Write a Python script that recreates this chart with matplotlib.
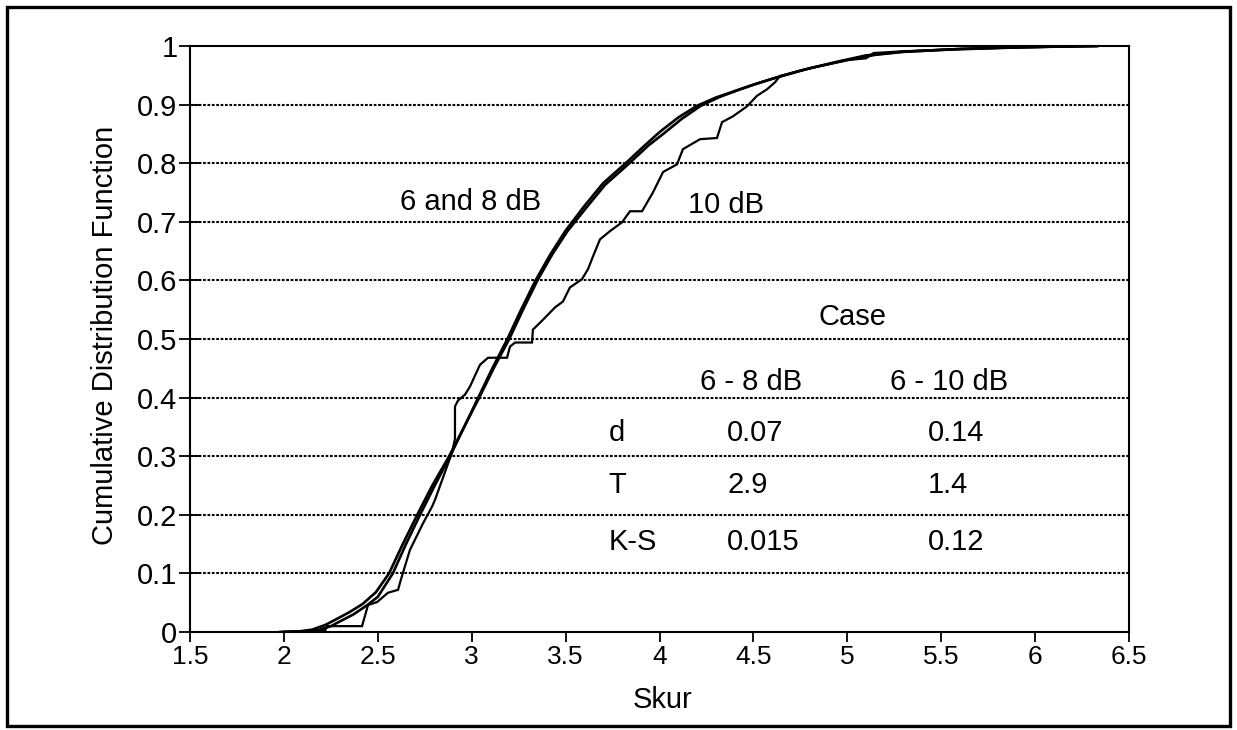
import matplotlib
matplotlib.use("Agg")
import matplotlib.pyplot as plt
from matplotlib.patches import Rectangle

plt.rcParams['font.family'] = ['Liberation Sans', 'DejaVu Sans']

# ---- data ----
x_6db = [2.00, 2.10, 2.18, 2.25, 2.31, 2.37, 2.44, 2.50, 2.58, 2.65, 2.725, 2.80, 2.885, 2.96, 3.035,
         3.11, 3.19, 3.26, 3.34, 3.42, 3.50, 3.60, 3.70, 3.82, 3.92, 4.00, 4.10, 4.20, 4.30, 4.40,
         4.50, 4.60, 4.75, 4.93, 5.10, 5.28, 5.55, 5.85, 6.10, 6.33]
y_6db = [0.000, 0.001, 0.003, 0.010, 0.020, 0.030, 0.045, 0.060, 0.100, 0.150, 0.200, 0.248, 0.300, 0.350, 0.400,
         0.450, 0.500, 0.548, 0.600, 0.645, 0.685, 0.727, 0.766, 0.800, 0.830, 0.853, 0.878, 0.898, 0.912, 0.923,
         0.934, 0.944, 0.958, 0.972, 0.984, 0.990, 0.994, 0.997, 0.999, 1.000]

x_8db = [1.98, 2.08, 2.15, 2.22, 2.28, 2.35, 2.42, 2.49, 2.56, 2.63, 2.71, 2.79, 2.88, 2.96, 3.04,
         3.12, 3.20, 3.27, 3.35, 3.43, 3.51, 3.61, 3.71, 3.84, 3.94, 4.02, 4.12, 4.22, 4.32, 4.42,
         4.52, 4.62, 4.80, 5.00, 5.15, 5.30, 5.60, 5.90, 6.15, 6.33]
y_8db = [0.000, 0.001, 0.004, 0.012, 0.022, 0.034, 0.048, 0.068, 0.100, 0.148, 0.200, 0.250, 0.300, 0.350, 0.400,
         0.452, 0.500, 0.548, 0.600, 0.645, 0.684, 0.724, 0.763, 0.800, 0.830, 0.850, 0.876, 0.898, 0.913, 0.925,
         0.936, 0.946, 0.962, 0.976, 0.985, 0.990, 0.995, 0.998, 0.999, 1.000]

x_10db = [1.98, 2.22, 2.23, 2.416, 2.448, 2.496, 2.554, 2.608, 2.618, 2.634, 2.671, 2.74, 2.789, 2.805,
          2.868, 2.895, 2.911, 2.911, 2.927, 2.964, 2.991, 3.044, 3.087, 3.188, 3.204, 3.231, 3.321, 3.326,
          3.380, 3.444, 3.486, 3.523, 3.587, 3.619, 3.646, 3.683, 3.736, 3.800, 3.843, 3.907, 3.965, 4.019,
          4.093, 4.125, 4.216, 4.306, 4.333, 4.391, 4.466, 4.519, 4.572, 4.615, 4.642, 4.80, 5.00, 5.10,
          5.14, 5.30, 5.60, 6.00, 6.33]
y_10db = [0.000, 0.003, 0.010, 0.010, 0.046, 0.051, 0.067, 0.072, 0.084, 0.101, 0.140, 0.185, 0.214, 0.226,
          0.282, 0.306, 0.330, 0.385, 0.395, 0.405, 0.419, 0.456, 0.468, 0.468, 0.487, 0.494, 0.494, 0.516,
          0.533, 0.554, 0.564, 0.588, 0.602, 0.619, 0.641, 0.670, 0.684, 0.699, 0.718, 0.718, 0.750, 0.785,
          0.798, 0.824, 0.841, 0.843, 0.870, 0.880, 0.897, 0.915, 0.926, 0.938, 0.949, 0.962, 0.976, 0.979,
          0.988, 0.991, 0.995, 0.998, 1.000]

x_ticks = [1.5, 2, 2.5, 3, 3.5, 4, 4.5, 5, 5.5, 6, 6.5]
x_ticklabels = ['1.5', '2', '2.5', '3', '3.5', '4', '4.5', '5', '5.5', '6', '6.5']
y_ticks = [0, 0.1, 0.2, 0.3, 0.4, 0.5, 0.6, 0.7, 0.8, 0.9, 1.0]
y_ticklabels = ['0', '0.1', '0.2', '0.3', '0.4', '0.5', '0.6', '0.7', '0.8', '0.9', '1']

table_cases = ['6 - 8 dB', '6 - 10 dB']
table_rows = ['d', 'T', 'K-S']
table_col1 = ['0.07', '2.9', '0.015']
table_col2 = ['0.14', '1.4', '0.12']

# ---- figure ----
fig = plt.figure(figsize=(12.37, 7.30), dpi=100)
ax = fig.add_axes([190/1237, 1 - 632/730, 939/1237, 586/730])

ax.set_xlim(1.5, 6.5)
ax.set_ylim(0, 1)

for ys in y_ticks[1:-1]:
    ax.axhline(ys, color='black', lw=1.5, linestyle=(0, (1.3, 0.8)), zorder=1)

ax.plot(x_6db, y_6db, color='black', lw=1.9, zorder=3, solid_joinstyle='round')
ax.plot(x_8db, y_8db, color='black', lw=1.9, zorder=3, solid_joinstyle='round')
ax.plot(x_10db, y_10db, color='black', lw=1.6, zorder=3, solid_joinstyle='miter')

ax.set_xticks(x_ticks)
ax.set_xticklabels(x_ticklabels)
ax.set_yticks(y_ticks)
ax.set_yticklabels(y_ticklabels)
ax.tick_params(axis='x', direction='out', length=7, width=1.3, labelsize=19, pad=2)
ax.tick_params(axis='y', direction='inout', length=16, width=1.3, labelsize=21, pad=1)

for sp in ax.spines.values():
    sp.set_linewidth(1.5)
    sp.set_color('black')

ax.set_xlabel('Skur', fontsize=21)
ax.xaxis.set_label_coords(0.503, -0.093)
ax.set_ylabel('Cumulative Distribution Function', fontsize=21, va='center', ha='center')
ax.yaxis.set_label_coords(-0.0905, 0.507)

# annotations
fs = 21
ax.text(2.996, 0.734, '6 and 8 dB', fontsize=fs, ha='center', va='center')
ax.text(4.354, 0.729, '10 dB', fontsize=fs, ha='center', va='center')
ax.text(5.03, 0.538, 'Case', fontsize=fs, ha='center', va='center')
ax.text(4.487, 0.427, table_cases[0], fontsize=fs, ha='center', va='center')
ax.text(5.54, 0.427, table_cases[1], fontsize=fs, ha='center', va='center')
row_y = [0.340, 0.251, 0.154]
for lbl, v1, v2, yy in zip(table_rows, table_col1, table_col2, row_y):
    ax.text(3.73, yy, lbl, fontsize=fs, ha='left', va='center')
    ax.text(4.36, yy, v1, fontsize=fs, ha='left', va='center')
    ax.text(5.43, yy, v2, fontsize=fs, ha='left', va='center')

# outer frame
fig.patches.append(Rectangle((7/1237, 4/730), 1223/1237, 719/730, transform=fig.transFigure,
                             fill=False, edgecolor='black', lw=2.4))

fig.savefig('out.png', dpi=100, facecolor='white')
